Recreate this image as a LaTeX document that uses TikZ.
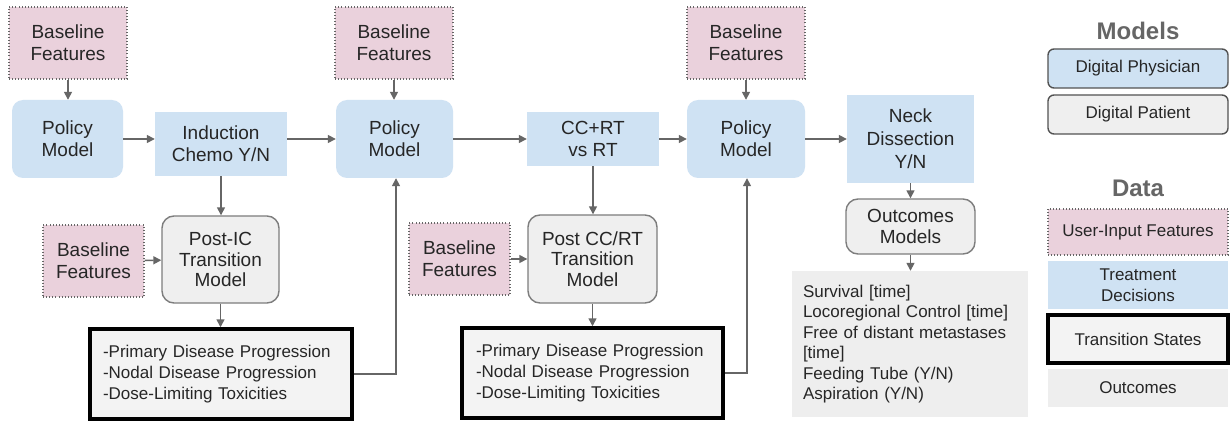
\documentclass[tikz,border=0pt]{standalone}
\usepackage{fontspec}
\setmainfont{Liberation Sans}
\usetikzlibrary{arrows.meta}
\definecolor{featfill}{HTML}{EAD1DC}
\definecolor{treatfill}{HTML}{CFE2F3}
\definecolor{modelfill}{HTML}{EFEFEF}
\definecolor{statefill}{HTML}{F3F3F3}
\definecolor{outfill}{HTML}{EEEEEE}
\definecolor{txt}{HTML}{262626}
\definecolor{linegray}{HTML}{666666}
\definecolor{headgray}{HTML}{666666}
\tikzset{
  base/.style={inner sep=0pt, align=center, text=txt, font=\fontsize{19}{22}\selectfont},
  small/.style={font=\fontsize{17}{21}\selectfont},
  sz/.style 2 args={minimum width=#1pt, minimum height=#2pt},
  feat/.style={base, fill=featfill, draw=linegray, line width=1.1pt, dash pattern=on 0.9pt off 2.2pt},
  policy/.style={base, fill=treatfill, rounded corners=11pt},
  treat/.style={base, fill=treatfill},
  transmodel/.style={base, fill=modelfill, draw=linegray!85, line width=1.4pt, rounded corners=12pt},
  tstate/.style={base, small, fill=statefill, draw=black, line width=3.5pt, align=left},
  outbox/.style={base, small, fill=outfill, align=left},
  legend/.style={minimum width=180pt},
  header/.style={text=headgray, font=\fontsize{24}{27}\selectfont\bfseries},
  flow/.style={draw=linegray, line width=1.5pt, -{Triangle[length=8pt,width=8pt]}},
}
\begin{document}
\begin{tikzpicture}[x=1pt,y=-1pt]
\useasboundingbox (0,0) rectangle (1231,422);
\fill[white] (0,0) rectangle (1231,422);

% top row: baseline features feeding the three policy models
\node[feat, sz={118}{72}] (bf1) at (68,43) {Baseline\\Features};
\node[feat, sz={118}{72}] (bf2) at (394,43) {Baseline\\Features};
\node[feat, sz={118}{72}] (bf3) at (746,43) {Baseline\\Features};

\node[policy, sz={111}{78}] (pm1) at (67.5,139) {Policy\\Model};
\node[policy, sz={117}{78}] (pm2) at (394.5,139) {Policy\\Model};
\node[policy, sz={118}{78}] (pm3) at (746,139) {Policy\\Model};

% treatment decisions
\node[treat, sz={132}{64}] (ic) at (221,144) {Induction\\Chemo Y/N};
\node[treat, sz={132}{54}] (ccrt) at (593,139) {CC+RT\\vs RT};
\node[treat, sz={127}{88}, font=\fontsize{19}{23}\selectfont] (nd) at (910.5,139) {Neck\\Dissection\\Y/N};

% transition models with their extra inputs
\node[transmodel, sz={117}{87}, font=\fontsize{19}{20.5}\selectfont] (postic) at (220.5,259.5) {Post-IC\\Transition\\Model};
\node[feat, sz={101}{72}] (bf4) at (93.5,261) {Baseline\\Features};
\node[transmodel, sz={129}{88}, font=\fontsize{19}{20.5}\selectfont] (postcc) at (592.5,259) {Post CC/RT\\Transition\\Model};
\node[feat, sz={101}{72}] (bf5) at (459.5,259) {Baseline\\Features};

% transition states
\node[tstate, sz={262}{90}, text width=236pt] (ts1) at (221,374)
  {-Primary Disease Progression\\-Nodal Disease Progression\\-Dose-Limiting Toxicities};
\node[tstate, sz={261}{90}, text width=233pt] (ts2) at (592.5,373)
  {-Primary Disease Progression\\-Nodal Disease Progression\\-Dose-Limiting Toxicities};

% outcomes
\node[transmodel, sz={129}{55}, font=\fontsize{19}{21}\selectfont] (om) at (910.5,226.5) {Outcomes\\Models};
\node[outbox, sz={236}{146}, text width=214pt, font=\fontsize{17}{20.5}\selectfont] (out) at (910,344)
  {Survival [time]\\Locoregional Control [time]\\Free of distant metastases\\{}[time]\\Feeding Tube (Y/N)\\Aspiration (Y/N)};

% connectors
\draw[flow] (bf1) -- (bf1 |- pm1.north);
\draw[flow] (bf2) -- (bf2 |- pm2.north);
\draw[flow] (bf3) -- (bf3 |- pm3.north);
\draw[flow] (pm1) -- (pm1 -| ic.west);
\draw[flow] (pm1 -| ic.east) -- (pm2);
\draw[flow] (pm2) -- (ccrt);
\draw[flow] (ccrt) -- (pm3);
\draw[flow] (pm3) -- (nd);
\draw[flow] (ic) -- (ic |- postic.north);
\draw[flow] (bf4) -- (postic);
\draw[flow] (postic) -- (postic |- ts1.north);
\draw[flow] (ts1.east) -| ([xshift=1.5pt]pm2.south);
\draw[flow] (ccrt) -- (ccrt |- postcc.north);
\draw[flow] (bf5) -- (postcc);
\draw[flow] (postcc) -- (postcc |- ts2.north);
\draw[flow] (ts2.east) -| ([xshift=1pt]pm3.south);
\draw[flow] (nd) -- (nd |- om.north);
\draw[flow] (om) -- (om |- out.north);

% legend
\node[header] (hmodels) at (1138,31) {Models};
\node[policy, small, legend, draw=linegray!80!black, line width=1.4pt, rounded corners=6pt, minimum height=39pt] (lphys) at (1138,68.5) {Digital Physician};
\node[transmodel, small, legend, draw=linegray!80!black, rounded corners=6pt, minimum height=39pt] (lpat) at (1138,114.5) {Digital Patient};
\node[header] (hdata) at (1138,188) {Data};
\node[feat, small, legend, minimum height=46pt] (lfeat) at (1138,232) {User-Input Features};
\node[treat, small, legend, minimum height=48pt] (ltreat) at (1138,285) {Treatment\\Decisions};
\node[tstate, legend, align=center, minimum height=48pt] (lstate) at (1138,339) {Transition States};
\node[outbox, legend, align=center, minimum height=38pt] (lout) at (1138,388) {Outcomes};
\end{tikzpicture}
\end{document}
